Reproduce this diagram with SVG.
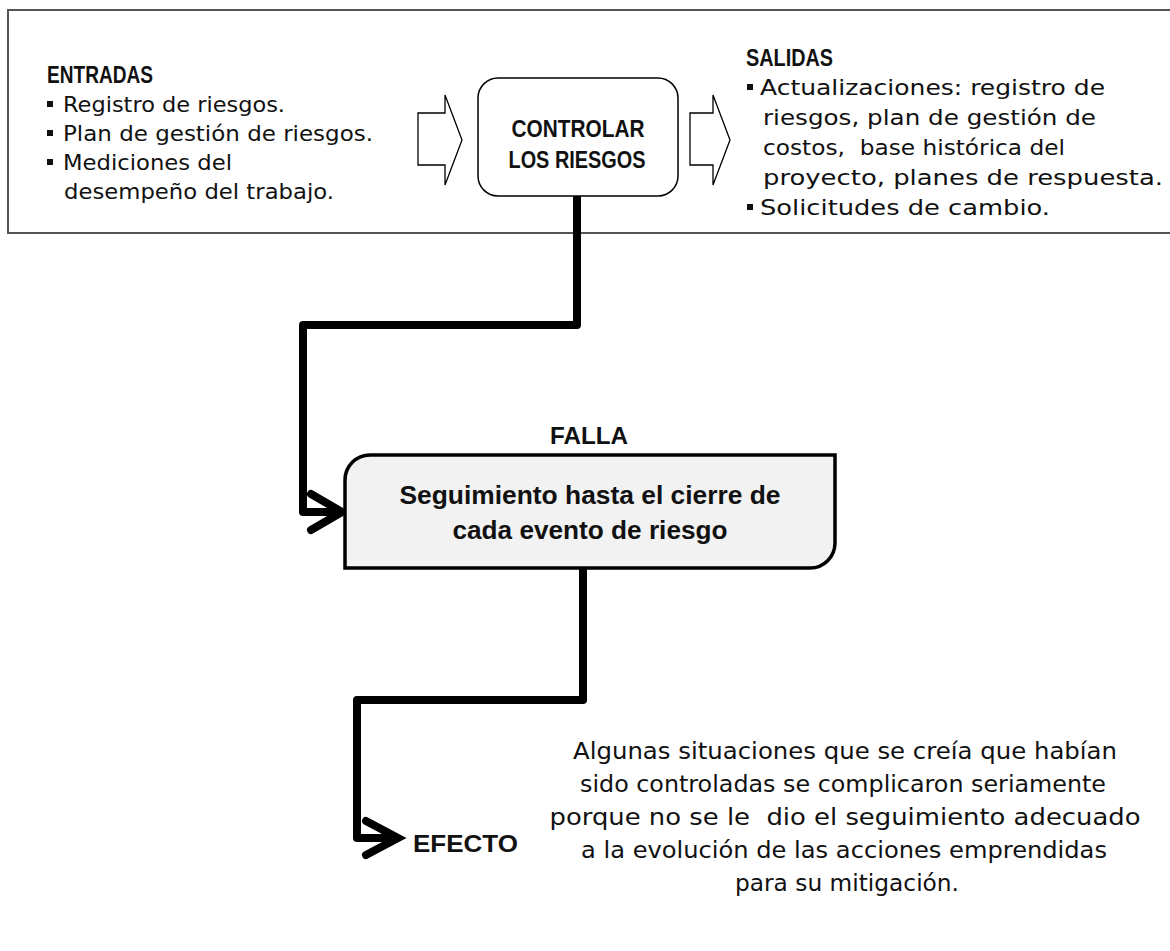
<svg xmlns="http://www.w3.org/2000/svg" width="1170" height="951" viewBox="0 0 1170 951">
<style>
.t{font-family:"DejaVu Sans","Liberation Sans",sans-serif;font-size:22px;fill:#111}
.h{font-family:"Liberation Sans","Arial",sans-serif;font-weight:bold;font-size:23px;fill:#111}
.c{font-family:"Liberation Sans","Arial",sans-serif;font-weight:bold;font-size:23px;fill:#111;text-anchor:middle}
.s{font-family:"Liberation Sans","Arial",sans-serif;font-weight:bold;font-size:25px;fill:#111;text-anchor:middle}
.p{font-family:"DejaVu Sans","Liberation Sans",sans-serif;font-size:23.5px;fill:#111;text-anchor:middle}
.conn{fill:none;stroke:#000;stroke-width:8;stroke-linejoin:round}
.chev{fill:none;stroke:#000;stroke-width:8;stroke-linecap:round;stroke-linejoin:miter}
.hollow{fill:#fff;stroke:#000;stroke-width:1.3}
.b{fill:#111}
</style>
<rect width="1170" height="951" fill="#fff"/>
<g id="frame">
<path d="M1172,10 H8 V233 H1172" fill="none" stroke="#555" stroke-width="2"/>
</g>
<g id="entradas">
<text class="h" x="47" y="83" textLength="106" lengthAdjust="spacingAndGlyphs">ENTRADAS</text>
<rect class="b" x="47" y="101" width="6" height="6"/>
<text class="t" x="63" y="112" textLength="222" lengthAdjust="spacingAndGlyphs">Registro de riesgos.</text>
<rect class="b" x="47" y="130" width="6" height="6"/>
<text class="t" x="63" y="141" textLength="310" lengthAdjust="spacingAndGlyphs">Plan de gestión de riesgos.</text>
<rect class="b" x="47" y="159" width="6" height="6"/>
<text class="t" x="63" y="170" textLength="169" lengthAdjust="spacingAndGlyphs">Mediciones del</text>
<text class="t" x="64" y="199" textLength="270" lengthAdjust="spacingAndGlyphs">desempeño del trabajo.</text>
</g>
<g id="arrow-in">
<polygon class="hollow" points="418,113 445,113 445,95 462,140 445,185 445,165 418,165"/>
</g>
<g id="controlar">
<rect x="478" y="78" width="200" height="118" rx="20" ry="20" fill="#fff" stroke="#000" stroke-width="1.5"/>
<text class="c" x="578" y="137" textLength="133" lengthAdjust="spacingAndGlyphs">CONTROLAR</text>
<text class="c" x="577" y="168" textLength="137" lengthAdjust="spacingAndGlyphs">LOS RIESGOS</text>
</g>
<g id="arrow-out">
<polygon class="hollow" points="690,113 713,113 713,95 730,140 713,185 713,165 690,165"/>
</g>
<g id="salidas">
<text class="h" x="746" y="66" textLength="87" lengthAdjust="spacingAndGlyphs">SALIDAS</text>
<rect class="b" x="747" y="84" width="6" height="6"/>
<text class="t" x="760" y="95" textLength="345" lengthAdjust="spacingAndGlyphs">Actualizaciones: registro de</text>
<text class="t" x="763" y="125" textLength="333" lengthAdjust="spacingAndGlyphs">riesgos, plan de gestión de</text>
<text class="t" x="763" y="155" textLength="302" lengthAdjust="spacingAndGlyphs" xml:space="preserve">costos,  base histórica del</text>
<text class="t" x="763" y="185" textLength="400" lengthAdjust="spacingAndGlyphs">proyecto, planes de respuesta.</text>
<rect class="b" x="747" y="204" width="6" height="6"/>
<text class="t" x="760" y="215" textLength="290" lengthAdjust="spacingAndGlyphs">Solicitudes de cambio.</text>
</g>
<g id="connectors">
<path class="conn" d="M577,196 V325 H303 V512 H338"/>
<path class="chev" d="M311,494 L342,512 L311,530"/>
<path class="conn" d="M583,568 V700 H357 V838 H395"/>
<path class="chev" d="M366,821 L398,838 L366,855"/>
</g>
<g id="falla">
<text class="h" x="550" y="444" font-size="26" textLength="78" lengthAdjust="spacingAndGlyphs">FALLA</text>
</g>
<g id="seguimiento">
<path d="M370,455 H835 V543 A25,25 0 0 1 810,568 H345 V480 A25,25 0 0 1 370,455 Z" fill="#f2f2f2" stroke="#000" stroke-width="3.5"/>
<text class="s" x="590" y="504" textLength="381" lengthAdjust="spacingAndGlyphs">Seguimiento hasta el cierre de</text>
<text class="s" x="590" y="539" textLength="275" lengthAdjust="spacingAndGlyphs">cada evento de riesgo</text>
</g>
<g id="efecto">
<text class="h" x="413" y="852" font-size="28" textLength="105" lengthAdjust="spacingAndGlyphs">EFECTO</text>
</g>
<g id="texto-efecto">
<text class="p" x="845" y="759" textLength="544" lengthAdjust="spacingAndGlyphs">Algunas situaciones que se creía que habían</text>
<text class="p" x="843" y="792" textLength="526" lengthAdjust="spacingAndGlyphs">sido controladas se complicaron seriamente</text>
<text class="p" x="845" y="825" textLength="591" lengthAdjust="spacingAndGlyphs" xml:space="preserve">porque no se le  dio el seguimiento adecuado</text>
<text class="p" x="844" y="858" textLength="526" lengthAdjust="spacingAndGlyphs">a la evolución de las acciones emprendidas</text>
<text class="p" x="847" y="891" textLength="224" lengthAdjust="spacingAndGlyphs">para su mitigación.</text>
</g>
</svg>
